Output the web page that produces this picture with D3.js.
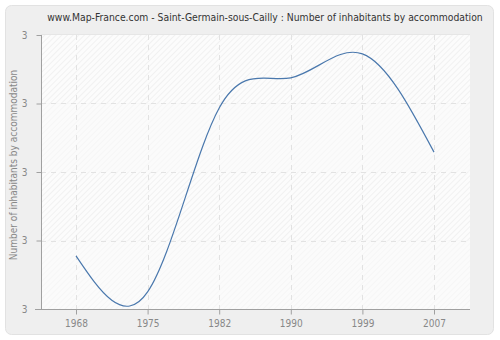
<!DOCTYPE html>
<html>
<head>
<meta charset="utf-8">
<script src="https://cdn.jsdelivr.net/npm/d3@7"></script>
<style>
  body { margin: 0; background: #fff; }
  text { font-family: "DejaVu Sans Condensed", "DejaVu Sans", sans-serif; }
</style>
</head>
<body>
<svg width="500" height="340"></svg>
<script>
// data
var years = ["1968", "1975", "1982", "1990", "1999", "2007"];
var values = [2.755, 2.65, 3.187, 3.275, 3.345, 3.058];
var yTicks = [2.6, 2.8, 3.0, 3.2, 3.4];
var yTickLabels = ["3", "3", "3", "3", "3"];

var svg = d3.select("svg");
var marge = { top: 35, right: 30, bottom: 31, left: 41 };
var width = 500, height = 340;
var x0 = marge.left, x1 = width - marge.right, y0 = marge.top, y1 = height - marge.bottom;

// hatch patterns
var defs = svg.append("defs");
var p1 = defs.append("pattern").attr("id", "hatch").attr("patternUnits", "userSpaceOnUse")
    .attr("width", 4).attr("height", 4).attr("patternTransform", "rotate(45)");
p1.append("rect").attr("width", 4).attr("height", 4).attr("fill", "#fcfcfc");
p1.append("line").attr("x1", 0).attr("y1", 0).attr("x2", 0).attr("y2", 4)
    .attr("stroke", "#eaeaea").attr("stroke-width", 1.2);
var p2 = defs.append("pattern").attr("id", "hatch2").attr("patternUnits", "userSpaceOnUse")
    .attr("width", 4).attr("height", 4).attr("patternTransform", "rotate(45)");
p2.append("rect").attr("width", 4).attr("height", 4).attr("fill", "#fbfbfb");
p2.append("line").attr("x1", 0).attr("y1", 0).attr("x2", 0).attr("y2", 4)
    .attr("stroke", "#f3f3f3").attr("stroke-width", 1.2);

// outer panel
svg.append("rect").attr("x", 5.5).attr("y", 5.5).attr("width", 488).attr("height", 329)
    .attr("rx", 6).attr("fill", "#efefef").attr("stroke", "#e2e2e2");

svg.append("text").attr("x", 265).attr("y", 21).attr("text-anchor", "middle")
    .attr("font-size", 10.3).attr("fill", "#333")
    .text("www.Map-France.com - Saint-Germain-sous-Cailly : Number of inhabitants by accommodation");

var x = d3.scalePoint().domain(years).range([76, 434]);
var y = d3.scaleLinear().domain([2.6, 3.4]).range([y1, y0]);

// plot background bands
var bands = d3.range(yTicks.length - 1);
svg.append("g").selectAll("rect").data(bands).enter().append("rect")
    .attr("x", x0).attr("width", x1 - x0)
    .attr("y", function (i) { return y(yTicks[i + 1]); })
    .attr("height", function (i) { return y(yTicks[i]) - y(yTicks[i + 1]); })
    .attr("fill", function (i) { return i % 2 == 0 ? "url(#hatch2)" : "url(#hatch)"; });
svg.append("line").attr("x1", x0).attr("x2", x1).attr("y1", y0 - 0.5).attr("y2", y0 - 0.5)
    .attr("stroke", "#e6e6e6");

// grid
svg.append("g").selectAll("line").data(years).enter().append("line")
    .attr("x1", function (d) { return Math.round(x(d)) + 0.5; })
    .attr("x2", function (d) { return Math.round(x(d)) + 0.5; })
    .attr("y1", y0).attr("y2", y1)
    .attr("stroke", "#e2e2e2").attr("stroke-dasharray", "5,5");
svg.append("g").selectAll("line").data(yTicks.slice(1, -1)).enter().append("line")
    .attr("x1", x0).attr("x2", x1)
    .attr("y1", function (d) { return Math.round(y(d)) + 0.5; })
    .attr("y2", function (d) { return Math.round(y(d)) + 0.5; })
    .attr("stroke", "#e2e2e2").attr("stroke-dasharray", "5,5");

// axes
var xAxis = svg.append("g").attr("transform", "translate(0," + (y1 + 0.5) + ")")
    .call(d3.axisBottom(x).tickSize(5).tickPadding(5));
xAxis.select(".domain").attr("d", "M" + (x0 - 6) + ",0H" + x1);
var yAxis = svg.append("g").attr("transform", "translate(" + (x0 + 0.5) + ",0)")
    .call(d3.axisLeft(y).tickValues(yTicks).tickSize(5).tickPadding(9)
        .tickFormat(function (d, i) { return yTickLabels[i]; }));
yAxis.select(".domain").attr("d", "M0," + y0 + "V" + (y1 + 0.5));
svg.selectAll(".domain, .tick line").attr("stroke", "#a0a0a0");
svg.selectAll(".tick text").attr("fill", "#888").attr("font-size", 10)
    .attr("font-family", "DejaVu Sans Condensed, DejaVu Sans, sans-serif");

svg.append("text").attr("transform", "translate(17,165) rotate(-90)")
    .attr("text-anchor", "middle").attr("font-size", 10).attr("fill", "#888")
    .text("Number of inhabitants by accommodation");

// line
var line = d3.line()
    .x(function (d, i) { return x(years[i]); })
    .y(function (d) { return y(d); })
    .curve(d3.curveNatural);
svg.append("path").datum(values).attr("d", line)
    .attr("fill", "none").attr("stroke", "#4a78ad").attr("stroke-width", 1.2);
</script>
</body>
</html>
